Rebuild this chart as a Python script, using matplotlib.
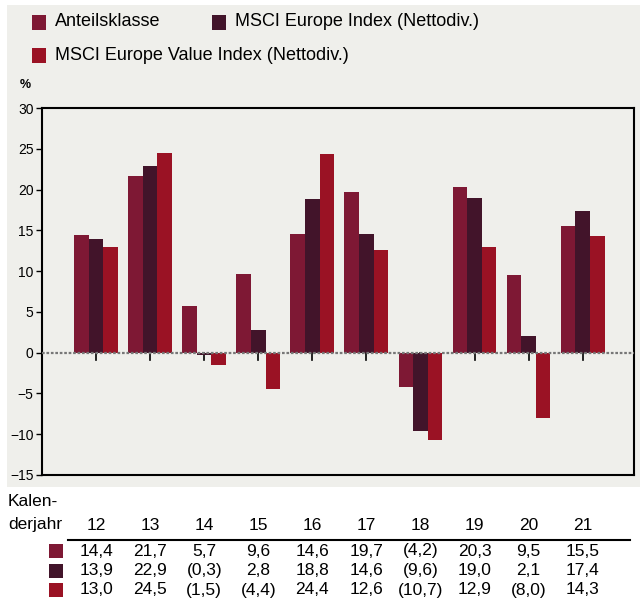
import matplotlib
matplotlib.use("Agg")
import matplotlib.pyplot as plt
import matplotlib.transforms as mtransforms
from matplotlib.patches import Rectangle
import numpy as np

plt.rcParams['font.family'] = ['Liberation Sans', 'DejaVu Sans']

years = ["12", "13", "14", "15", "16", "17", "18", "19", "20", "21"]
series_names = ["Anteilsklasse", "MSCI Europe Index (Nettodiv.)",
                "MSCI Europe Value Index (Nettodiv.)"]
anteil = [14.4, 21.7, 5.7, 9.6, 14.6, 19.7, -4.2, 20.3, 9.5, 15.5]
msci = [13.9, 22.9, -0.3, 2.8, 18.8, 14.6, -9.6, 19.0, 2.1, 17.4]
value = [13.0, 24.5, -1.5, -4.4, 24.4, 12.6, -10.7, 12.9, -8.0, 14.3]
colors = ["#7e1834", "#42142a", "#9a1224"]
BG = "#efefeb"


def fmt(v):
    s = f"{abs(v):.1f}".replace(".", ",")
    return f"({s})" if v < 0 else s


fig = plt.figure(figsize=(6.4, 6.03), dpi=100)
fig.patch.set_facecolor("white")
# grey panel behind chart and legend
fig.patches.append(Rectangle((7 / 640, 1 - 487 / 603), 633 / 640, 482 / 603,
                             transform=fig.transFigure, facecolor=BG,
                             edgecolor="none", zorder=-10))

ax = fig.add_axes([42 / 640, 1 - 475 / 603, 592 / 640, 367 / 603])
ax.set_facecolor(BG)

x = np.arange(len(years))
w = 0.27
for xi in x:
    ax.plot([xi, xi], [0, -0.9], color="black", lw=1.2, zorder=1, clip_on=False)
for i, (vals, c) in enumerate(zip([anteil, msci, value], colors)):
    ax.bar(x + (i - 1) * w, vals, width=w, color=c, zorder=2)

ax.axhline(0, color="#777777", lw=1.6, ls=(0, (1.2, 0.8)), zorder=3)
ax.set_xlim(-1.0, 9.95)
ax.set_ylim(-15, 30)
ax.set_yticks(range(-15, 31, 5))
ax.tick_params(axis="y", direction="out", length=4, width=1, labelsize=10, pad=2)
ax.set_xticks([])
for s in ax.spines.values():
    s.set_linewidth(1.5)
    s.set_color("black")
fig.text(20 / 640, 1 - 85 / 603, "%", fontsize=9, fontweight="bold",
         ha="left", va="center")

# legend
leg_y1 = 1 - 22 / 603
leg_y2 = 1 - 55 / 603
for (lx, ly), name, c in zip([(32, leg_y1), (212, leg_y1), (32, leg_y2)],
                             series_names, colors):
    fig.patches.append(Rectangle((lx / 640, ly - 8 / 603), 14 / 640, 15 / 603,
                                 transform=fig.transFigure, facecolor=c,
                                 edgecolor="none"))
    fig.text((lx + 23) / 640, ly, name, fontsize=13, va="center", ha="left")

# table below
tr = mtransforms.blended_transform_factory(ax.transData, fig.transFigure)
fig.text(8 / 640, 1 - 501 / 603, "Kalen-", fontsize=12.5, va="center", ha="left")
fig.text(8 / 640, 1 - 525 / 603, "derjahr", fontsize=12.5, va="center", ha="left")
for xi, yr in zip(x, years):
    fig.text(xi, 1 - 525 / 603, yr, transform=tr, fontsize=12.5,
             va="center", ha="center")
fig.add_artist(plt.Line2D([68 / 640, 630 / 640], [1 - 540 / 603] * 2,
                          transform=fig.transFigure, color="black", lw=1.5))
for r, (vals, c) in enumerate(zip([anteil, msci, value], colors)):
    yy = 1 - (551 + r * 19.5) / 603
    fig.patches.append(Rectangle((49 / 640, yy - 7 / 603), 14 / 640, 14 / 603,
                                 transform=fig.transFigure, facecolor=c,
                                 edgecolor="none"))
    for xi, v in zip(x, vals):
        fig.text(xi, yy, fmt(v), transform=tr, fontsize=12.5,
                 va="center", ha="center")

fig.savefig("out.png", dpi=100, facecolor=fig.get_facecolor())
